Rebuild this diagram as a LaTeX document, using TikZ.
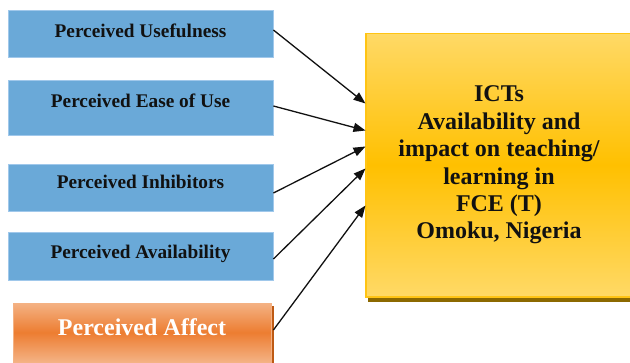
\documentclass[tikz,border=0pt]{standalone}
\usepackage{fontspec}
\setmainfont{Liberation Serif}
\usetikzlibrary{arrows.meta}
\definecolor{boxblue}{RGB}{106,169,216}
\definecolor{blueedge}{RGB}{160,200,235}
\definecolor{orlight}{RGB}{244,178,132}
\definecolor{ormid}{RGB}{237,125,49}
\definecolor{orshadow}{RGB}{190,90,20}
\definecolor{yellight}{RGB}{255,217,102}
\definecolor{yelmid}{RGB}{255,192,0}
\definecolor{yeledge}{RGB}{255,196,20}
\definecolor{yelshadow}{RGB}{140,105,0}
\definecolor{txt}{RGB}{17,17,17}
\tikzset{
  bluebox/.style={rectangle, fill=boxblue, draw=blueedge, line width=0.8pt,
    minimum width=265pt, inner sep=0pt, text=txt, text height=13pt,
    font=\fontsize{19.3}{22}\selectfont\bfseries},
  orbox/.style={rectangle, top color=orlight, bottom color=orlight, middle color=ormid,
    draw=orlight, line width=0.8pt, minimum width=258pt, minimum height=59pt,
    inner sep=0pt, text=white, text height=16pt,
    font=\fontsize{24}{28}\selectfont\bfseries},
  yelbox/.style={rectangle, top color=yellight, bottom color=yellight, middle color=yelmid,
    draw=yeledge, line width=1pt, minimum width=266pt, minimum height=263pt,
    inner sep=0pt, text=txt, align=center,
    font=\fontsize{24}{27.4}\selectfont\bfseries},
  conn/.style={line width=1.3pt, -{Triangle[length=12pt,width=9pt]}, draw=txt}
}
\begin{document}
\begin{tikzpicture}[x=1pt,y=-1pt]
\useasboundingbox[fill=white] (0,0) rectangle (630,362);
% shadows
\fill[orshadow] (271,306) rectangle (274,363);
\fill[yelshadow] (368,298) rectangle (632,302);
\node[bluebox, minimum height=47pt, text depth=6pt] (b1) at (140.5,33.5) {Perceived Usefulness};
\node[bluebox, minimum height=55pt, text depth=14pt] (b2) at (140.5,107.5) {Perceived Ease of Use};
\node[bluebox, minimum height=47pt, text depth=12pt] (b3) at (140.5,187.5) {Perceived Inhibitors};
\node[bluebox, minimum height=48pt, text depth=9pt] (b4) at (140.5,256) {Perceived Availability};
\node[orbox, text depth=11pt] (b5) at (142,332.5) {Perceived Affect};
\node[yelbox] (y) at (499,165) {ICTs\\Availability and\\impact on teaching/\\learning in\\FCE (T)\\Omoku, Nigeria};
\path[draw=yeledge, line width=1pt] (y.north west) rectangle (y.south east);
\draw[conn] ([yshift=3.5pt]b1.east) -- ([yshift=61.5pt]y.west);
\draw[conn] ([yshift=1.5pt]b2.east) -- ([yshift=34.5pt]y.west);
\draw[conn] ([yshift=-5.5pt]b3.east) -- ([yshift=18.5pt]y.west);
\draw[conn] ([yshift=-3pt]b4.east) -- ([yshift=-3.5pt]y.west);
\draw[conn] ([xshift=2pt,yshift=2.5pt]b5.east) -- ([yshift=-40.5pt]y.west);
\end{tikzpicture}
\end{document}
